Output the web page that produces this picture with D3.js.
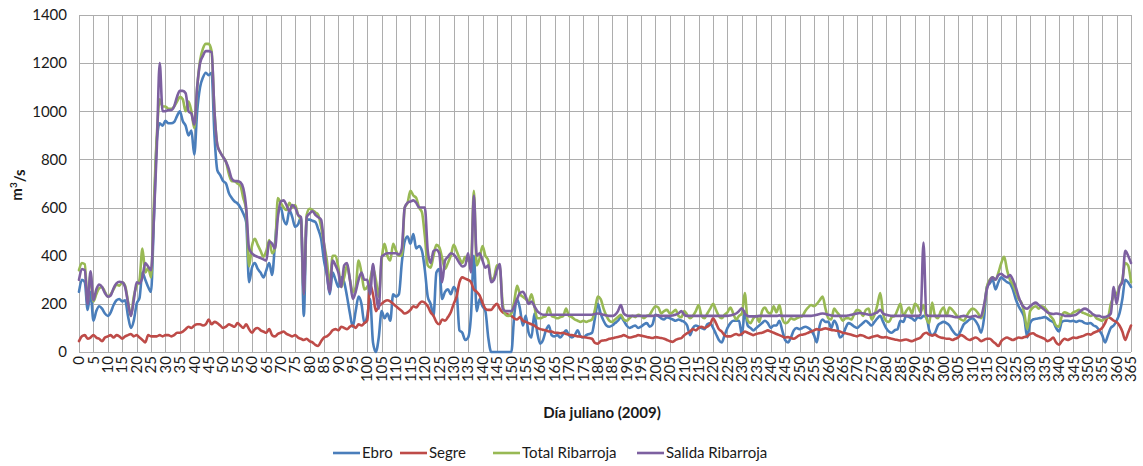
<!DOCTYPE html>
<html>
<head>
<meta charset="utf-8">
<script src="https://cdn.jsdelivr.net/npm/d3@7"></script>
<style>
  html, body { margin: 0; padding: 0; background: #fff; }
  svg { display: block; font-family: Lato, "Open Sans", "Liberation Sans", sans-serif; }
</style>
</head>
<body>
<svg id="chart" width="1143" height="466"></svg>
<script>
// Daily flows (m3/s), day 0..365 of 2009
const ebro = [
  250,300,290,175,250,130,170,190,180,160,
  150,165,195,215,220,210,215,150,100,130,
  200,225,330,300,270,250,560,880,950,940,
  960,950,950,955,980,1000,960,940,900,920,
  820,1000,1100,1140,1160,1150,1160,900,755,735,
  710,700,660,640,625,617,600,575,540,290,
  350,370,345,330,310,340,370,320,450,575,
  600,550,530,590,560,520,530,560,150,550,
  550,545,540,510,470,380,320,240,330,300,
  270,310,290,230,160,105,170,230,200,120,
  150,220,40,0,60,170,140,160,130,240,
  230,240,370,460,480,450,490,430,440,420,
  340,230,200,150,330,345,220,250,260,240,
  270,250,90,80,50,60,150,400,170,220,
  190,170,60,0,0,0,0,0,0,0,
  0,150,220,180,110,150,80,60,160,80,
  35,50,90,110,70,65,70,60,75,90,
  70,60,70,90,65,60,70,75,80,140,
  200,160,130,110,105,110,120,130,145,130,
  110,100,105,110,100,105,115,120,105,115,
  155,150,140,135,145,140,135,130,135,130,
  125,110,70,100,110,105,100,95,115,120,
  100,75,50,40,70,100,120,130,130,130,
  70,170,110,100,90,100,110,120,130,120,
  100,110,110,130,90,50,40,60,90,100,
  95,100,105,100,90,70,40,110,135,125,
  125,100,130,110,60,70,100,120,115,105,
  100,110,120,130,120,110,125,140,150,125,
  100,85,80,90,95,130,125,150,145,140,
  130,145,140,150,145,90,70,80,110,120,
  125,120,110,90,75,70,90,115,125,135,
  140,130,110,80,140,270,285,300,260,290,
  310,300,290,285,260,220,190,170,140,60,
  120,135,138,140,142,145,140,130,125,100,
  85,125,130,130,128,130,125,130,128,120,
  118,120,110,105,90,70,40,70,100,110,
  130,160,220,300,290,270
];
const segre = [
  45,65,70,55,60,70,60,55,45,60,
  65,70,60,70,65,55,65,70,75,65,
  70,60,50,40,70,65,65,65,70,65,
  70,70,65,70,80,80,85,95,105,100,
  110,115,115,110,115,135,115,125,120,110,
  100,105,115,110,105,120,110,100,115,95,
  80,95,100,90,85,80,95,70,65,75,
  80,85,75,70,65,70,60,55,50,55,
  45,40,30,25,45,60,65,75,90,95,
  90,105,100,95,105,110,100,115,110,120,
  130,280,240,170,190,200,210,215,210,200,
  190,180,170,160,165,175,190,185,200,210,
  205,190,165,150,125,115,135,130,145,165,
  200,230,290,310,305,300,290,260,250,235,
  205,180,175,175,190,200,180,165,160,155,
  150,140,135,145,130,125,120,115,110,100,
  95,92,90,85,85,80,80,78,80,75,
  72,70,68,65,64,62,60,58,55,38,
  35,45,48,50,55,57,60,62,65,70,
  65,60,62,65,70,68,65,62,60,58,
  62,60,58,55,50,45,42,50,55,58,
  70,78,85,95,90,100,105,100,105,115,
  140,120,95,85,70,65,65,70,75,70,
  75,85,80,75,70,75,78,80,85,90,
  85,80,75,70,65,60,62,58,55,62,
  70,72,75,80,85,90,95,92,95,98,
  95,92,90,88,85,80,78,75,72,68,
  65,70,68,62,58,62,65,68,62,60,
  62,58,55,52,50,48,50,52,48,45,
  50,55,60,75,80,72,68,72,65,60,
  58,55,55,50,55,60,70,65,55,50,
  55,60,55,45,50,55,55,45,35,25,
  45,55,60,55,50,55,60,58,62,65,
  75,78,70,65,60,55,45,50,60,40,
  30,45,55,50,55,60,58,62,65,70,
  75,72,80,85,90,100,120,145,140,130,
  125,110,85,50,80,110
];
const totalRibarroja = [
  340,370,365,210,320,210,240,265,270,250,
  230,240,260,280,275,290,275,210,150,230,
  275,300,430,330,350,310,620,900,1050,1020,
  1020,1010,1010,1020,1040,1060,1050,1000,1040,1000,
  930,1100,1210,1260,1280,1280,1250,1000,860,830,
  810,790,740,710,710,700,690,640,590,355,
  440,470,445,420,396,420,465,410,430,640,
  620,600,590,620,600,610,570,550,240,570,
  595,590,580,570,520,450,380,280,400,400,
  350,270,310,360,300,250,270,380,330,260,
  270,300,350,300,230,380,450,400,380,450,
  420,400,400,600,620,670,650,640,600,580,
  480,360,350,400,445,435,390,345,370,400,
  445,420,390,370,395,380,370,670,360,390,
  440,400,380,300,310,360,350,200,155,150,
  160,210,275,240,230,220,210,240,190,140,
  140,145,150,185,150,145,140,145,150,180,
  150,145,135,130,125,130,125,130,135,175,
  230,220,180,150,130,125,135,145,155,135,
  130,140,150,145,155,150,140,150,155,175,
  190,185,160,170,175,160,165,175,150,145,
  170,155,140,150,170,195,150,140,160,180,
  200,175,150,140,155,165,185,160,135,150,
  160,245,130,120,140,150,125,170,185,165,
  160,190,165,195,140,120,125,140,135,140,
  145,150,170,185,195,190,200,215,230,180,
  140,135,180,165,150,130,140,140,135,160,
  175,170,150,175,180,135,155,195,245,160,
  130,125,145,150,175,200,150,170,185,160,
  200,190,165,195,140,120,205,150,140,170,
  185,150,185,175,160,145,135,130,150,170,
  180,175,160,140,180,270,300,310,300,330,
  370,395,340,300,280,250,220,205,160,95,
  170,185,190,180,190,185,170,150,135,110,
  105,150,165,160,155,165,170,175,165,160,
  155,150,155,140,135,130,140,145,200,230,
  240,270,300,370,360,290
];
const salidaRibarroja = [
  300,345,340,200,335,215,260,280,270,245,
  230,235,265,285,292,290,270,205,150,215,
  290,285,310,370,355,340,560,850,1200,1000,
  1000,1005,1005,1020,1060,1085,1085,1075,1000,990,
  945,1100,1200,1230,1250,1250,1245,1000,860,830,
  810,790,760,720,710,710,705,680,600,430,
  410,400,395,390,385,380,460,450,430,560,
  625,630,610,585,610,600,570,560,240,560,
  575,585,570,560,550,450,330,250,380,360,
  330,270,360,370,300,220,250,300,330,300,
  300,240,365,250,180,395,405,410,410,410,
  410,405,430,600,620,625,630,620,600,600,
  600,420,370,420,425,410,290,380,395,410,
  405,390,370,355,360,410,330,650,400,410,
  380,350,360,290,300,340,365,180,170,170,
  170,190,220,245,250,230,200,210,190,170,
  160,155,155,155,155,155,155,155,155,155,
  155,155,155,155,155,155,155,155,155,158,
  160,158,155,152,150,150,155,170,195,160,
  152,150,150,150,150,150,150,150,150,150,
  152,152,150,150,150,150,152,155,160,170,
  155,150,150,150,150,150,150,150,150,150,
  150,150,150,150,150,150,152,155,160,170,
  182,160,150,148,148,148,150,150,150,150,
  150,150,150,152,150,150,150,150,150,150,
  150,150,150,150,150,152,155,158,160,158,
  155,152,150,150,150,150,150,152,155,158,
  160,162,160,158,155,155,160,165,175,160,
  155,152,150,150,150,150,152,150,150,150,
  150,150,155,455,155,150,150,150,150,150,
  150,150,150,148,145,145,148,150,148,145,
  148,150,145,150,195,260,295,310,300,320,
  325,315,310,320,300,270,230,200,185,180,
  190,200,205,195,185,175,165,160,158,160,
  158,155,150,150,150,152,155,165,175,180,
  175,165,155,150,150,145,145,150,160,270,
  200,270,290,420,400,370
];

const seriesNames = ["Ebro", "Segre", "Total Ribarroja", "Salida Ribarroja"];
const seriesColors = ["#4a7ebb", "#be4b48", "#98b954", "#7d60a0"];
const seriesValues = [ebro, segre, totalRibarroja, salidaRibarroja];

const yTicks = [0, 200, 400, 600, 800, 1000, 1200, 1400];
const xTicks = d3.range(0, 366, 5);
const xTitle = "Día juliano (2009)";

const svg = d3.select("#chart");
const x = d3.scaleLinear().domain([0, 365]).range([79, 1131]);
const y = d3.scaleLinear().domain([0, 1400]).range([352, 15]);

// gridlines
const grid = svg.append("g").attr("stroke", "#adadad").attr("stroke-width", 1).attr("shape-rendering", "crispEdges");
grid.selectAll("line.h").data(yTicks).join("line")
  .attr("x1", x(0)).attr("x2", x(365))
  .attr("y1", d => Math.round(y(d)) + 0.5).attr("y2", d => Math.round(y(d)) + 0.5);
grid.selectAll("line.v").data(xTicks).join("line")
  .attr("y1", y(1400)).attr("y2", y(0))
  .attr("x1", d => Math.round(x(d)) + 0.5).attr("x2", d => Math.round(x(d)) + 0.5);

// y axis labels
svg.append("g").selectAll("text").data(yTicks).join("text")
  .attr("x", 67).attr("y", d => y(d)).attr("dy", "0.35em")
  .attr("text-anchor", "end").attr("font-size", 15).attr("fill", "#1a1a1a")
  .text(d => d);

// x axis labels, rotated
svg.append("g").selectAll("text").data(xTicks).join("text")
  .attr("transform", d => `translate(${x(d)},${y(0) + 4}) rotate(-90)`)
  .attr("dy", "0.35em").attr("text-anchor", "end")
  .attr("font-size", 15).attr("fill", "#1a1a1a")
  .text(d => d);

// axis titles
svg.append("text").attr("x", 602).attr("y", 418).attr("text-anchor", "middle")
  .attr("font-size", 15).attr("font-weight", "bold").attr("fill", "#1a1a1a").text(xTitle);
const yt = svg.append("text").attr("transform", "translate(22,185) rotate(-90)")
  .attr("text-anchor", "middle").attr("font-size", 15).attr("font-weight", "bold").attr("fill", "#1a1a1a");
yt.append("tspan").text("m");
yt.append("tspan").attr("font-size", 10).attr("dy", "-0.5em").text("3");
yt.append("tspan").attr("dy", "0.5em").text("/s");

// series lines
const line = d3.line().x((d, i) => x(i)).y(d => y(d)).curve(d3.curveMonotoneX);
const lines = svg.append("g").attr("fill", "none").attr("stroke-width", 2.6)
  .attr("stroke-linejoin", "round").attr("stroke-linecap", "round");
seriesValues.forEach((vals, k) => {
  lines.append("path").datum(vals).attr("stroke", seriesColors[k]).attr("d", line);
});

// legend
const legendX = [333, 400, 493, 637];
const lg = svg.append("g");
seriesNames.forEach((name, k) => {
  lg.append("line").attr("x1", legendX[k]).attr("x2", legendX[k] + 27)
    .attr("y1", 453).attr("y2", 453).attr("stroke", seriesColors[k]).attr("stroke-width", 2.6);
  lg.append("text").attr("x", legendX[k] + 29).attr("y", 453).attr("dy", "0.35em")
    .attr("font-size", 15).attr("fill", "#1a1a1a").text(name);
});
</script>
</body>
</html>
